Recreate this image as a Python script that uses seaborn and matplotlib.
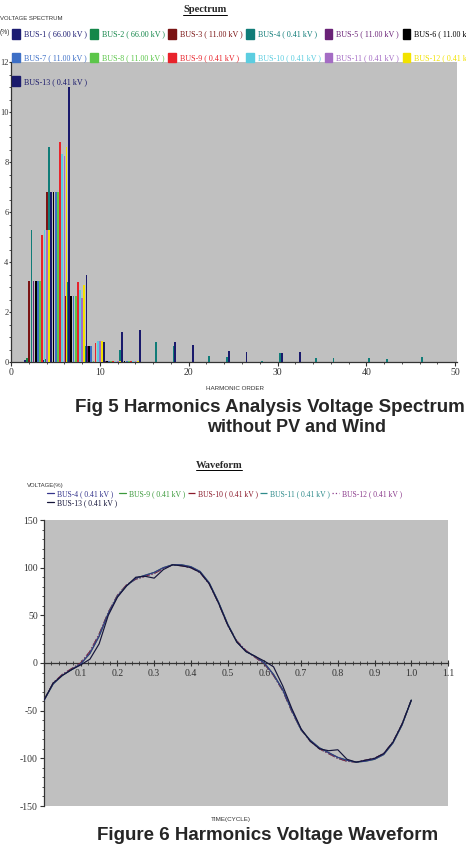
import numpy as np
import matplotlib.pyplot as plt
import matplotlib.patches as mpatches
from matplotlib.lines import Line2D
from matplotlib.ticker import MultipleLocator, FuncFormatter
import seaborn as sns

# ---- data: voltage spectrum (%), one list per bus over the harmonic orders
harmonics = [3, 5, 7, 9, 11, 13, 17, 19, 23, 25, 29, 31, 35, 37, 41, 43, 47, 49]
bus1 = [0.10, 0.10, 0.05, 0.02, 0.02, 0.02, 0.01, 0.01, 0, 0, 0, 0, 0, 0, 0, 0, 0, 0]
bus2 = [0.15, 0.12, 0.05, 0.02, 0.02, 0.02, 0.01, 0.01, 0, 0, 0, 0, 0, 0, 0, 0, 0, 0]
bus3 = [3.25, 6.8, 2.65, 0.65, 0.05, 0.04, 0.02, 0.02, 0.01, 0.01, 0, 0, 0, 0, 0, 0, 0, 0]
bus4 = [5.3, 8.6, 3.2, 0.65, 0.05, 0.5, 0.8, 0.65, 0.25, 0.2, 0.05, 0.38, 0.15, 0.18, 0.18, 0.12, 0.22, 0.02]
bus5 = [3.25, 6.8, 2.65, 0.65, 0.05, 0.04, 0.02, 0.02, 0.01, 0.01, 0, 0, 0, 0, 0, 0, 0, 0]
bus6 = [3.25, 6.8, 2.65, 0.65, 0.05, 0.05, 0.02, 0.02, 0.01, 0.01, 0, 0, 0, 0, 0, 0, 0, 0.02]
bus7 = [3.25, 6.8, 2.65, 0.65, 0.05, 0.05, 0.02, 0.02, 0.01, 0.01, 0, 0, 0, 0, 0, 0, 0, 0]
bus8 = [3.25, 6.8, 2.65, 0.05, 0.05, 0.05, 0.02, 0.02, 0.01, 0.01, 0, 0, 0, 0, 0, 0, 0, 0]
bus9 = [5.1, 8.8, 3.2, 0.75, 0.05, 0.06, 0.02, 0.02, 0.01, 0.01, 0, 0, 0, 0, 0, 0, 0, 0]
bus10 = [5.3, 8.3, 2.9, 0.85, 0.05, 0.05, 0.02, 0.02, 0.01, 0.01, 0, 0, 0, 0, 0, 0, 0, 0]
bus11 = [5.3, 8.25, 2.55, 0.85, 0.05, 0.05, 0.02, 0.02, 0.01, 0.01, 0, 0, 0, 0, 0, 0, 0, 0]
bus12 = [5.3, 8.6, 3.1, 0.85, 0.05, 0.05, 0.02, 0.02, 0.01, 0.01, 0, 0, 0, 0, 0, 0, 0, 0]
bus13 = [6.8, 11.0, 3.5, 0.8, 1.2, 1.3, 0.8, 0.7, 0.45, 0.4, 0.38, 0.4, 0, 0, 0, 0, 0, 0]
spectrum = [bus1, bus2, bus3, bus4, bus5, bus6, bus7, bus8, bus9, bus10, bus11, bus12, bus13]

bus_labels = ["BUS-1 ( 66.00 kV )", "BUS-2 ( 66.00 kV )", "BUS-3 ( 11.00 kV )",
              "BUS-4 ( 0.41 kV )", "BUS-5 ( 11.00 kV )", "BUS-6 ( 11.00 kV )",
              "BUS-7 ( 11.00 kV )", "BUS-8 ( 11.00 kV )", "BUS-9 ( 0.41 kV )",
              "BUS-10 ( 0.41 kV )", "BUS-11 ( 0.41 kV )", "BUS-12 ( 0.41 kV )",
              "BUS-13 ( 0.41 kV )"]
bus_colors = ["#1c1c72", "#14874a", "#7a1414", "#107c78", "#6a2277", "#000000",
              "#3d6fc6", "#5cc64a", "#e8232b", "#5ccde0", "#a46cc4", "#f2e200",
              "#1a1a6c"]

# ---- data: waveform (%), time in cycles
t_cycle = [0.0, 0.025, 0.05, 0.075, 0.1, 0.125, 0.15, 0.175, 0.2, 0.225, 0.25,
           0.275, 0.3, 0.325, 0.35, 0.375, 0.4, 0.425, 0.45, 0.475, 0.5,
           0.525, 0.55, 0.575, 0.6, 0.625, 0.65, 0.675, 0.7, 0.725, 0.75,
           0.775, 0.8, 0.825, 0.85, 0.875, 0.9, 0.925, 0.95, 0.975, 1.0]
wave_a = [-39, -22, -13, -7, -1, 10, 28, 52, 70, 81, 89, 92, 95, 100, 103, 103,
          101, 96, 84, 64, 41, 22, 12, 7, 0, -12, -28, -50, -70, -81, -89,
          -94, -99, -102, -104, -103, -101, -96, -84, -65, -39]
wave_b = [-39, -21, -12, -6, 0, 12, 30, 53, 71, 82, 88, 91, 94, 99, 103, 102,
          100, 95, 83, 63, 40, 23, 13, 6, -1, -13, -29, -51, -70, -82, -90,
          -95, -100, -103, -104, -102, -100, -95, -83, -64, -39]
wave_13 = [-39, -21, -13, -7, -2, 4, 20, 50, 69, 81, 90, 91, 89, 98, 103, 102,
           100, 95, 83, 63, 40, 22, 12, 7, 2, -4, -24, -48, -69, -82, -90,
           -92, -91, -101, -104, -102, -100, -95, -83, -64, -39]
wave_labels = ["BUS-4 ( 0.41 kV )", "BUS-9 ( 0.41 kV )", "BUS-10 ( 0.41 kV )",
               "BUS-11 ( 0.41 kV )", "BUS-12 ( 0.41 kV )", "BUS-13 ( 0.41 kV )"]
wave_series = [wave_a, wave_a, wave_b, wave_b, wave_b, wave_13]
wave_colors = ["#34348c", "#3c9a3c", "#8b1a2b", "#2e8b8b", "#8b3a8b", "#15153a"]
wave_styles = ["-", "-", "-.", "-.", ":", "-"]
wave_z = [5, 4, 3, 2, 3, 6]

sns.set_theme(style="ticks")
plt.rcParams['font.family'] = ['Liberation Serif', 'DejaVu Serif']
plt.rcParams['axes.unicode_minus'] = False
GRAY = "#c0c0c0"
W, H = 466, 850

fig = plt.figure(figsize=(4.66, 8.5), dpi=100)


def fx(px):
    return px / W


def fy(py):
    return 1 - py / H


def underline(txt):
    fig.canvas.draw()
    bb = txt.get_window_extent()
    y = bb.y0 - 0.5
    fig.add_artist(Line2D([bb.x0 / W, bb.x1 / W], [y / H, y / H],
                          transform=fig.transFigure, color="black", lw=0.7))


# ================= Spectrum =================
ax1 = fig.add_axes([fx(11), fy(362), fx(457 - 11), 300 / H])
ax1.set_facecolor(GRAY)
for i, (vals, col) in enumerate(zip(spectrum, bus_colors)):
    xs = np.array(harmonics) + (i - 6) * 0.245 + 0.03
    ax1.bar(xs, vals, width=0.2, color=col, linewidth=0, zorder=2 + i)
ax1.set_xlim(0, 50.2)
ax1.set_ylim(0, 12)
sns.despine(ax=ax1)
ax1.xaxis.set_major_locator(MultipleLocator(10))
ax1.xaxis.set_minor_locator(MultipleLocator(2))
ax1.yaxis.set_major_locator(MultipleLocator(2))
ax1.yaxis.set_minor_locator(MultipleLocator(0.5))
ax1.tick_params(which="major", length=3, width=0.8, color="#333333",
                labelsize=7, labelcolor="#333333", pad=1.5)
ax1.tick_params(axis="y", which="major", length=1.5, pad=0.3, labelsize=6)
ax1.tick_params(which="minor", length=1.5, width=0.6, color="#333333")
for sp in ["left", "bottom"]:
    ax1.spines[sp].set_color("#333333")
    ax1.spines[sp].set_linewidth(0.9)

t1 = fig.text(fx(205), fy(10), "Spectrum", ha="center", va="center",
              fontsize=7.5, fontweight="bold")
fig.text(fx(0), fy(18), "VOLTAGE SPECTRUM", family="Liberation Sans",
         fontsize=4.3, va="center", color="#333333")
fig.text(fx(0), fy(33), "(%)", family="Liberation Sans", fontsize=4.8,
         va="center", color="#333333")
fig.text(fx(235), fy(389), "HARMONIC ORDER", family="Liberation Sans",
         fontsize=4.5, ha="center", va="center", color="#333333")

order1 = [0, 6, 12, 1, 7, 2, 8, 3, 9, 4, 10, 5, 11]
handles1 = [mpatches.Patch(color=bus_colors[k]) for k in order1]
leg1 = fig.legend(handles1, [bus_labels[k] for k in order1], ncol=6,
                  loc="upper left", bbox_to_anchor=(fx(12), fy(29)),
                  frameon=False, fontsize=5.8, handlelength=0.95,
                  handleheight=1.45, handletextpad=0.5, columnspacing=0.45,
                  labelspacing=1.75, borderaxespad=0, borderpad=0)
for txt, k in zip(leg1.get_texts(), order1):
    txt.set_color(bus_colors[k])

# ================= Waveform =================
ax2 = fig.add_axes([fx(44), fy(806), fx(448 - 44), 286 / H])
ax2.set_facecolor(GRAY)
for vals, col, ls, lab, z in zip(wave_series, wave_colors, wave_styles,
                                 wave_labels, wave_z):
    sns.lineplot(x=t_cycle, y=vals, ax=ax2, color=col, linestyle=ls,
                 linewidth=0.85, label=lab, zorder=z)
if ax2.get_legend() is not None:
    ax2.get_legend().remove()
ax2.set_xlim(0, 1.1)
ax2.set_ylim(-150, 150)
sns.despine(ax=ax2)
ax2.spines["bottom"].set_position(("data", 0))
ax2.xaxis.set_major_locator(MultipleLocator(0.1))
ax2.xaxis.set_minor_locator(MultipleLocator(0.02))
ax2.yaxis.set_major_locator(MultipleLocator(50))
ax2.yaxis.set_minor_locator(MultipleLocator(10))
ax2.xaxis.set_major_formatter(FuncFormatter(lambda v, p: "" if abs(v) < 1e-9 else f"{v:.1f}"))
ax2.tick_params(axis="x", which="major", direction="inout", length=5)
ax2.tick_params(axis="x", which="minor", direction="inout", length=3)
ax2.tick_params(which="major", width=0.8, color="#333333", labelsize=7,
                labelcolor="#333333", pad=1.5)
ax2.tick_params(axis="y", which="major", length=3)
ax2.tick_params(which="minor", width=0.6, color="#333333")
ax2.tick_params(axis="y", which="minor", length=1.5)
for sp in ["left", "bottom"]:
    ax2.spines[sp].set_color("#333333")
    ax2.spines[sp].set_linewidth(0.9)

t2 = fig.text(fx(219), fy(465), "Waveform", ha="center", va="center",
              fontsize=7.5, fontweight="bold")
fig.text(fx(27), fy(485), "VOLTAGE(%)", family="Liberation Sans",
         fontsize=4.3, va="center", color="#333333")
fig.text(fx(231), fy(820), "TIME(CYCLE)", family="Liberation Sans",
         fontsize=4.5, ha="center", va="center", color="#333333")

order2 = [0, 5, 1, 2, 3, 4]
handles2 = [Line2D([], [], color=wave_colors[k], linestyle=wave_styles[k], lw=0.9)
            for k in order2]
leg2 = fig.legend(handles2, [wave_labels[k] for k in order2], ncol=5,
                  loc="upper left", bbox_to_anchor=(fx(47), fy(490)),
                  frameon=False, fontsize=5.5, handlelength=0.9,
                  handletextpad=0.4, columnspacing=0.3, labelspacing=0.15,
                  borderaxespad=0, borderpad=0)
for txt, k in zip(leg2.get_texts(), order2):
    txt.set_color(wave_colors[k])

# ================= captions =================
fig.text(fx(75), fy(408), "Fig 5 Harmonics Analysis Voltage Spectrum",
         family="Liberation Sans", fontweight="bold", fontsize=13.5, va="center")
fig.text(fx(297), fy(427), "without PV and Wind", family="Liberation Sans",
         fontweight="bold", fontsize=13, ha="center", va="center")
fig.text(fx(268), fy(836), "Figure 6 Harmonics Voltage Waveform",
         family="Liberation Sans", fontweight="bold", fontsize=13.5,
         ha="center", va="center")

underline(t1)
underline(t2)

fig.savefig("out.png", dpi=100)
